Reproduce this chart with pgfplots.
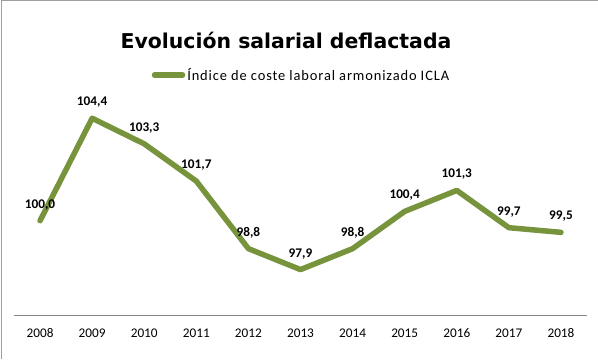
\documentclass[border=0pt]{standalone}
\usepackage{fontspec}
\setmainfont{Carlito}
\newfontfamily\titlefont{DejaVu Sans}
\newfontfamily\legfont[LetterSpace=6]{Carlito}
\usepackage{pgfplots}
\pgfplotsset{compat=1.18}
\definecolor{icla}{HTML}{77933C}
\definecolor{axgray}{HTML}{868686}
\begin{document}
\begin{tikzpicture}[x=1bp,y=1bp]
\useasboundingbox (0,0) rectangle (598,359);
\fill[white] (0,0) rectangle (598,359);
\draw[axgray!80, line width=1bp] (1,0) -- (1,358) -- (598,358);
\node[font=\titlefont\bfseries\fontsize{20.5}{23}\selectfont] at (286,319) {Evolución salarial deflactada};
\begin{axis}[at={(14bp,44bp)}, anchor=south west, scale only axis,
  width=573bp, height=234bp,
  xmin=2007.5, xmax=2018.5, ymin=95.95, ymax=106,
  axis x line*=bottom, axis y line=none,
  x axis line style={axgray, line width=1bp},
  xtick={2008,2009,2010,2011,2012,2013,2014,2015,2016,2017,2018},
  major tick length=0pt,
  /pgf/number format/assume math mode=true,
  /pgf/number format/1000 sep={},
  xticklabel style={anchor=base, inner sep=0pt, yshift=-22.3bp, font=\fontsize{13.3}{15}\selectfont},
  clip=false,
  nodes near coords={\pgfmathprintnumber[fixed,fixed zerofill,precision=1,use comma,1000 sep={},assume math mode=true]{\pgfplotspointmeta}},
  nodes near coords style={font=\bfseries\fontsize{13.3}{15}\selectfont, text=black, anchor=base, inner sep=0pt, yshift=12.5bp},
  legend style={draw=none, fill=none, at={(0.5017,1.0256)}, anchor=center, font=\legfont\fontsize{14.5}{16}\selectfont, inner sep=0pt},
  legend image code/.code={\draw[icla, line width=5.5bp, line cap=round] (0bp,0bp) -- (28bp,0bp);},
]
\addplot[icla, line width=5.5bp, line join=round, line cap=round] coordinates {
  (2008,100.0) (2009,104.4) (2010,103.3) (2011,101.7) (2012,98.8) (2013,97.9)
  (2014,98.8) (2015,100.4) (2016,101.3) (2017,99.7) (2018,99.5)
};
\addlegendentry{Índice de coste laboral armonizado ICLA}
\end{axis}
\end{tikzpicture}
\end{document}
